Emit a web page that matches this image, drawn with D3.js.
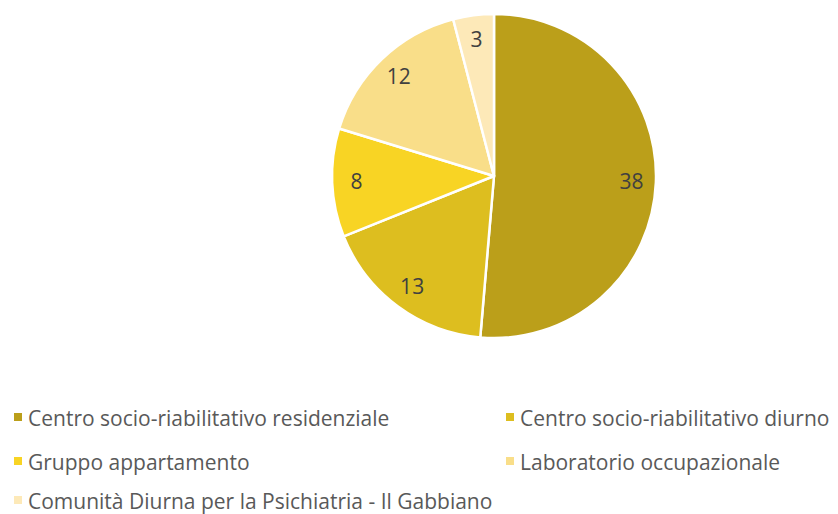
<!DOCTYPE html>
<html>
<head>
<meta charset="utf-8">
<script src="https://cdn.jsdelivr.net/npm/d3@7"></script>
<style>
  body { margin: 0; background: #fff; }
  svg { display: block; }
</style>
</head>
<body>
<svg id="chart" width="838" height="514"></svg>
<script>
// data
let categories = [
    "Centro socio-riabilitativo residenziale",
    "Centro socio-riabilitativo diurno",
    "Gruppo appartamento",
    "Laboratorio occupazionale",
    "Comunità Diurna per la Psichiatria - Il Gabbiano"
];
let values = [38, 13, 8, 12, 3];
let colours = ["#BB9F1A", "#DDBE1F", "#F8D424", "#F9DE89", "#FDE9B8"];

let width = 838;
let height = 514;
let cx = 494, cy = 176; // pie centre
let radius = 162;
let labelR = radius * 0.85; // where the value labels sit
let fontFamily = "'Open Sans', 'Lato', sans-serif";

let svg = d3.select("#chart");

let pie = d3.pie().sort(null).value(d => d);
let arcs = pie(values);

let arc = d3.arc().innerRadius(0).outerRadius(radius);
let labelArc = d3.arc().innerRadius(labelR).outerRadius(labelR);

let gPie = svg.append("g")
    .attr("transform", "translate(" + cx + "," + cy + ")");

gPie.selectAll("path")
    .data(arcs)
    .enter().append("path")
    .attr("d", arc)
    .attr("fill", (d, i) => colours[i])
    .attr("stroke", "#fff")
    .attr("stroke-width", 2.5)
    .attr("stroke-linejoin", "round");

gPie.selectAll("text")
    .data(arcs)
    .enter().append("text")
    .attr("transform", d => "translate(" + labelArc.centroid(d) + ")")
    .attr("text-anchor", "middle")
    .attr("dy", "0.35em")
    .style("font-family", fontFamily)
    .style("font-size", "21px")
    .style("fill", "#404040")
    .text(d => d.data);

// legend: two columns, three rows (y = text baseline)
let legendX = [14, 506];
let legendY = [426, 470, 509];
let marker = 8;

let gLeg = svg.append("g");
categories.forEach((c, i) => {
    let col = i % 2;
    let row = Math.floor(i / 2);
    let g = gLeg.append("g")
        .attr("transform", "translate(" + legendX[col] + "," + legendY[row] + ")");
    g.append("rect")
        .attr("x", 0)
        .attr("y", -9 - marker / 2)
        .attr("width", marker)
        .attr("height", marker)
        .attr("fill", colours[i]);
    g.append("text")
        .attr("x", 14)
        .style("font-family", fontFamily)
        .style("font-size", "21px")
        .style("fill", "#595959")
        .text(c);
});
</script>
</body>
</html>
